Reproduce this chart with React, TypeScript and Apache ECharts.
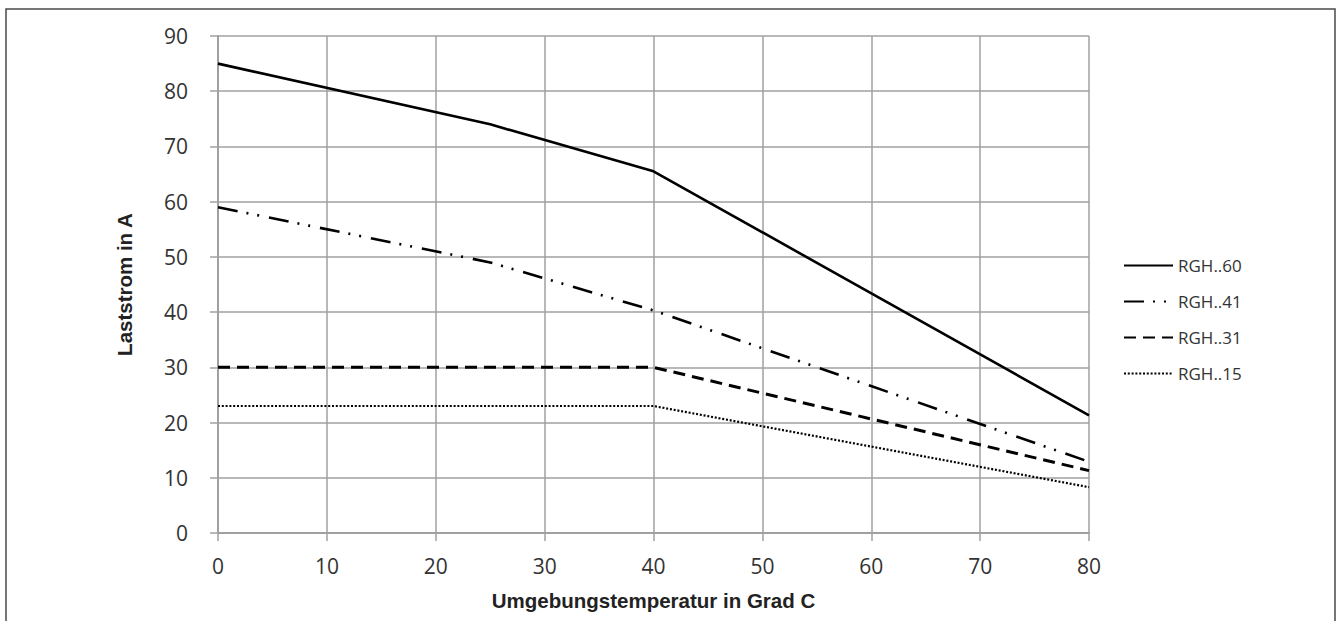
import React, { useEffect, useRef } from "react";
import * as echarts from "echarts";

const xTicks = [0, 10, 20, 30, 40, 50, 60, 70, 80];
const yTicks = [0, 10, 20, 30, 40, 50, 60, 70, 80, 90];

const seriesNames = ["RGH..60", "RGH..41", "RGH..31", "RGH..15"];
const temps60 = [0, 25, 40, 80];
const values60 = [85, 74, 65.5, 21.3];
const temps41 = [0, 25, 40, 80];
const values41 = [59, 49, 40.3, 12.9];
const temps31 = [0, 40, 80];
const values31 = [30, 30, 11.3];
const temps15 = [0, 40, 80];
const values15 = [23, 23, 8.3];

const xTitle = "Umgebungstemperatur in Grad C";
const yTitle = "Laststrom in A";

const pairs = (xs: number[], ys: number[]) => xs.map((x, i) => [x, ys[i]]);

export default function App() {
  const ref = useRef<HTMLDivElement>(null);
  useEffect(() => {
    if (!ref.current) return;
    const chart = echarts.init(ref.current, null, { renderer: "svg" });
    const labelFont = "'Open Sans', 'Noto Sans', sans-serif";
    const titleFont = "'Liberation Sans', Arial, sans-serif";
    const grey = "#a0a0a0";
    chart.setOption({
      animation: false,
      backgroundColor: "#fff",
      graphic: [
        {
          type: "rect",
          shape: { x: 6, y: 9, width: 1329, height: 700 },
          style: { fill: "none", stroke: "#4a4a4a", lineWidth: 1.5 },
          silent: true,
        },
      ],
      grid: { left: 218, right: 249, top: 36, bottom: 88, containLabel: false },
      legend: {
        orient: "vertical",
        left: 1123,
        top: 257,
        padding: 0,
        itemWidth: 49,
        itemHeight: 14,
        itemGap: 19,
        data: seriesNames,
        itemStyle: { opacity: 0 },
        textStyle: { fontFamily: labelFont, fontSize: 17, color: "#333", lineHeight: 17 },
      },
      xAxis: {
        type: "value",
        min: xTicks[0],
        max: xTicks[xTicks.length - 1],
        interval: 10,
        name: xTitle,
        nameLocation: "middle",
        nameGap: 57,
        nameTextStyle: { fontFamily: titleFont, fontWeight: "bold", fontSize: 20.5, color: "#222" },
        axisLine: { show: true, lineStyle: { color: grey, width: 2 } },
        axisTick: { show: true, length: 8, lineStyle: { color: grey, width: 1.5 } },
        axisLabel: { fontFamily: labelFont, fontSize: 21, color: "#333", margin: 22 },
        splitLine: { show: true, lineStyle: { color: grey, width: 1.5 } },
      },
      yAxis: {
        type: "value",
        min: yTicks[0],
        max: yTicks[yTicks.length - 1],
        interval: 10,
        name: yTitle,
        nameLocation: "middle",
        nameGap: 83,
        nameRotate: 90,
        nameTextStyle: { fontFamily: titleFont, fontWeight: "bold", fontSize: 20.5, color: "#222" },
        axisLine: { show: true, lineStyle: { color: grey, width: 2 } },
        axisTick: { show: true, length: 8, lineStyle: { color: grey, width: 1.5 } },
        axisLabel: { fontFamily: labelFont, fontSize: 21, color: "#333", margin: 30 },
        splitLine: { show: true, lineStyle: { color: grey, width: 1.5 } },
      },
      series: [
        {
          name: seriesNames[0],
          type: "line",
          symbol: "none",
          data: pairs(temps60, values60),
          lineStyle: { color: "#000", width: 2.6, type: "solid" },
          itemStyle: { color: "#000" },
        },
        {
          name: seriesNames[1],
          type: "line",
          symbol: "none",
          data: pairs(temps41, values41),
          lineStyle: { color: "#000", width: 2.6, type: [20, 9, 2, 9, 2, 10], cap: "butt" },
          itemStyle: { color: "#000" },
        },
        {
          name: seriesNames[2],
          type: "line",
          symbol: "none",
          data: pairs(temps31, values31),
          lineStyle: { color: "#000", width: 3, type: [12, 7], cap: "butt" },
          itemStyle: { color: "#000" },
        },
        {
          name: seriesNames[3],
          type: "line",
          symbol: "none",
          data: pairs(temps15, values15),
          lineStyle: { color: "#000", width: 2.2, type: [2, 1.8], cap: "butt" },
          itemStyle: { color: "#000" },
        },
      ],
    });
    return () => chart.dispose();
  }, []);
  return (
    <div
      ref={ref}
      style={{ position: "absolute", left: 0, top: 0, width: 1338, height: 621 }}
    />
  );
}
